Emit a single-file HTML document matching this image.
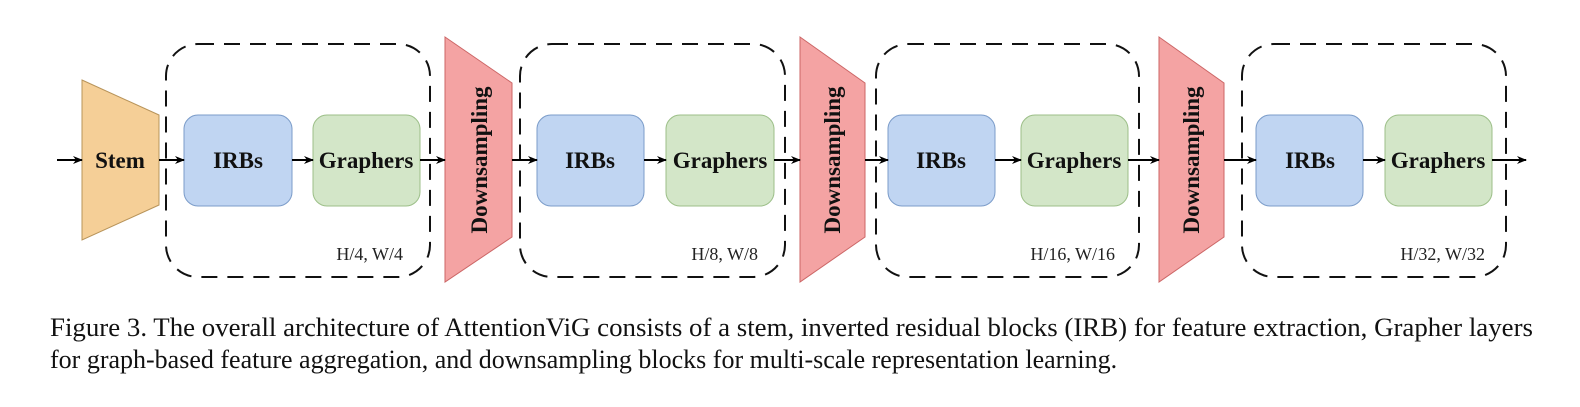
<!DOCTYPE html>
<html><head><meta charset="utf-8"><style>
html,body{margin:0;padding:0;background:#fff;}
svg{display:block;}
</style></head><body>
<svg width="1580" height="407" viewBox="0 0 1580 407" xmlns="http://www.w3.org/2000/svg">
<defs>
<marker id="ah" markerWidth="10" markerHeight="10" refX="9" refY="5" orient="auto" markerUnits="userSpaceOnUse">
<path d="M0,1 L10,5 L0,9 L3,5 Z" fill="#000"/>
</marker>
</defs>
<g fill="none" stroke="#111" stroke-width="2" stroke-dasharray="16,10">
<rect x="166" y="44" width="264" height="233" rx="32"/>
<rect x="520" y="44" width="265" height="233" rx="32"/>
<rect x="876" y="44" width="263" height="233" rx="32"/>
<rect x="1242" y="44" width="264" height="233" rx="32"/>
</g>
<polygon points="82,80 159,115 159,205 82,240" fill="#f5cf97" stroke="#b8945a" stroke-width="1"/>
<g fill="#f4a3a3" stroke="#c66" stroke-width="1">
<polygon points="445,37 512,83 512,237 445,282"/>
<polygon points="800,37 865,83 865,237 800,282"/>
<polygon points="1159,37 1224,83 1224,237 1159,282"/>
</g>
<g fill="#c0d5f2" stroke="#7b9cc9" stroke-width="1">
<rect x="184" y="115" width="108" height="91" rx="14"/>
<rect x="537" y="115" width="107" height="91" rx="14"/>
<rect x="888" y="115" width="107" height="91" rx="14"/>
<rect x="1256" y="115" width="107" height="91" rx="14"/>
</g>
<g fill="#d3e6c8" stroke="#9cbf88" stroke-width="1">
<rect x="313" y="115" width="107" height="91" rx="14"/>
<rect x="666" y="115" width="108" height="91" rx="14"/>
<rect x="1021" y="115" width="107" height="91" rx="14"/>
<rect x="1385" y="115" width="107" height="91" rx="14"/>
</g>
<g stroke="#000" stroke-width="2" marker-end="url(#ah)">
<line x1="57" y1="160" x2="82" y2="160"/>
<line x1="159" y1="160" x2="184" y2="160"/>
<line x1="292" y1="160" x2="313" y2="160"/>
<line x1="420" y1="160" x2="445" y2="160"/>
<line x1="512" y1="160" x2="537" y2="160"/>
<line x1="644" y1="160" x2="666" y2="160"/>
<line x1="774" y1="160" x2="800" y2="160"/>
<line x1="865" y1="160" x2="888" y2="160"/>
<line x1="995" y1="160" x2="1021" y2="160"/>
<line x1="1128" y1="160" x2="1159" y2="160"/>
<line x1="1224" y1="160" x2="1256" y2="160"/>
<line x1="1363" y1="160" x2="1385" y2="160"/>
<line x1="1492" y1="160" x2="1526" y2="160"/>
</g>
<g font-family="Liberation Serif, serif" font-weight="bold" font-size="23" fill="#111" text-anchor="middle">
<text x="120" y="168">Stem</text>
<text x="238" y="168">IRBs</text>
<text x="366" y="168">Graphers</text>
<text x="590" y="168">IRBs</text>
<text x="720" y="168">Graphers</text>
<text x="941" y="168">IRBs</text>
<text x="1074" y="168">Graphers</text>
<text x="1310" y="168">IRBs</text>
<text x="1438" y="168">Graphers</text>
<text transform="translate(487,160) rotate(-90)">Downsampling</text>
<text transform="translate(840,160) rotate(-90)">Downsampling</text>
<text transform="translate(1199,160) rotate(-90)">Downsampling</text>
</g>
<g font-family="Liberation Serif, serif" font-size="18" fill="#222" text-anchor="end">
<text x="403" y="260">H/4, W/4</text>
<text x="758" y="260">H/8, W/8</text>
<text x="1115" y="260">H/16, W/16</text>
<text x="1485" y="260">H/32, W/32</text>
</g>
<g font-family="Liberation Serif, serif" font-size="26" fill="#111">
<text x="50" y="336" textLength="1483" lengthAdjust="spacingAndGlyphs">Figure 3. The overall architecture of AttentionViG consists of a stem, inverted residual blocks (IRB) for feature extraction, Grapher layers</text>
<text x="50" y="368">for graph-based feature aggregation, and downsampling blocks for multi-scale representation learning.</text>
</g>
</svg>
</body></html>
